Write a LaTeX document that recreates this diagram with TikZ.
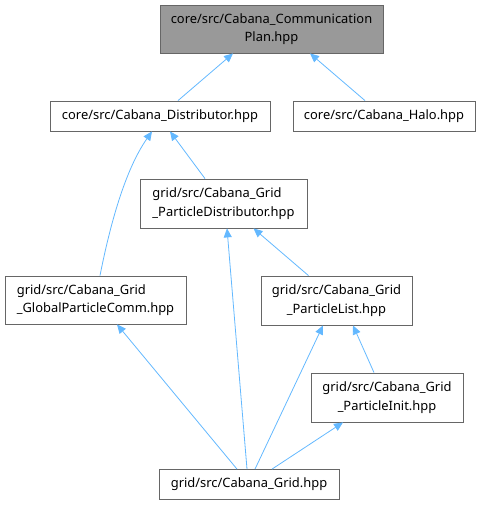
\documentclass[tikz,border=0pt]{standalone}
\usepackage{fontspec}
\setmainfont{Noto Sans}
\usetikzlibrary{arrows.meta}

\definecolor{edgeblue}{HTML}{63B8FF}
\definecolor{boxline}{HTML}{666666}
\definecolor{topfill}{HTML}{999999}

\tikzset{
  file/.style={draw=boxline, line width=0.8pt, fill=white, inner sep=0pt,
    font=\fontsize{12.9}{18.5}\selectfont, align=center},
  topfile/.style={file, fill=topfill},
  dep/.style={edgeblue, line width=0.8pt, -{Triangle[length=9pt,width=8pt]}}
}

\begin{document}
\begin{tikzpicture}[x=1pt,y=-1pt]
\useasboundingbox (0,0) rectangle (481,505);

% files
\node[topfile, minimum width=223pt, minimum height=48pt] (comm) at (271.5,29)
  {core/src/Cabana\_Communication\\Plan.hpp};
\node[file, minimum width=220pt, minimum height=30pt] (dist) at (160,116)
  {core/src/Cabana\_Distributor.hpp};
\node[file, minimum width=182pt, minimum height=30pt] (halo) at (384,116)
  {core/src/Cabana\_Halo.hpp};
\node[file, align=left, minimum width=167pt, minimum height=49pt] (pdist) at (223.5,203.5)
  {grid/src/Cabana\_Grid\\\_ParticleDistributor.hpp};
\node[file, align=left, minimum width=181pt, minimum height=48pt] (gpcomm) at (95.5,300)
  {grid/src/Cabana\_Grid\\\_GlobalParticleComm.hpp};
\node[file, minimum width=151pt, minimum height=49pt] (plist) at (336.5,300.5)
  {grid/src/Cabana\_Grid\\\_ParticleList.hpp};
\node[file, minimum width=152pt, minimum height=49pt] (pinit) at (387,397.5)
  {grid/src/Cabana\_Grid\\\_ParticleInit.hpp};
\node[file, minimum width=180pt, minimum height=30pt] (grid) at (249,484.5)
  {grid/src/Cabana\_Grid.hpp};

% includes
\draw[dep] ([xshift=18pt]dist.north) -- ([xshift=-38.5pt]comm.south);
\draw[dep] ([xshift=-19pt]halo.north) -- ([xshift=38.5pt]comm.south);
\draw[dep] ([xshift=-18.5pt]pdist.north) -- ([xshift=10pt]dist.south);
\draw[dep] ([xshift=4.5pt]gpcomm.north) .. controls (110,225) and (125,170) .. ([xshift=-8pt]dist.south);
\draw[dep] ([xshift=-28pt]plist.north) -- ([xshift=30pt]pdist.south);
\draw[dep] ([xshift=-13pt]pinit.north) -- ([xshift=16.5pt]plist.south);
\draw[dep] ([xshift=-12pt]grid.north) -- ([xshift=21.5pt]gpcomm.south);
\draw[dep] ([xshift=-2pt]grid.north) -- ([xshift=3.5pt]pdist.south);
\draw[dep] ([xshift=6pt]grid.north) -- ([xshift=-13.5pt]plist.south);
\draw[dep] ([xshift=23pt]grid.north) -- ([xshift=-44pt]pinit.south);

\end{tikzpicture}
\end{document}
